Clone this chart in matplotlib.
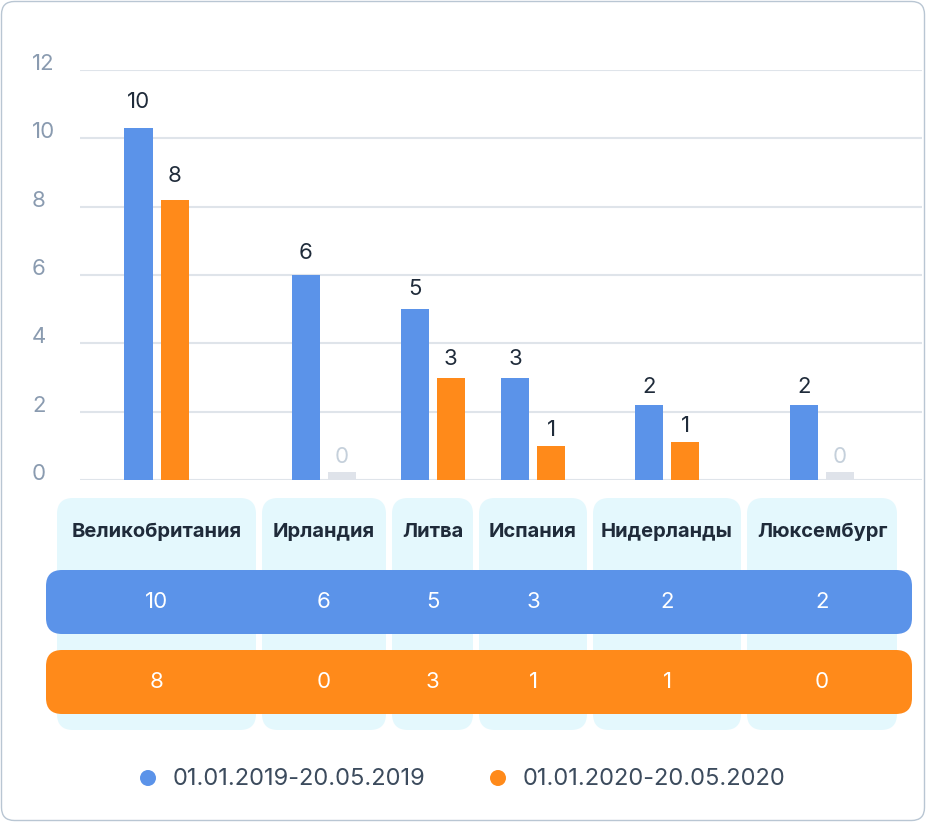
import matplotlib
matplotlib.use("Agg")
import matplotlib.pyplot as plt
from matplotlib.patches import FancyBboxPatch, Circle

plt.rcParams['font.family'] = ['Inter', 'DejaVu Sans']

# ---- data ----
categories = ["Великобритания", "Ирландия", "Литва", "Испания", "Нидерланды", "Люксембург"]
series_names = ["01.01.2019-20.05.2019", "01.01.2020-20.05.2020"]
values_2019 = [10.3, 6, 5, 3, 2.2, 2.2]
values_2020 = [8.2, 0, 3, 1, 1.1, 0]
y_ticks = [0, 2, 4, 6, 8, 10, 12]

# ---- style / layout ----
BLUE = "#5b93e9"
ORANGE = "#ff8a1a"
ZERO_BAR = "#dfe3ea"
ZERO_TXT = "#c5d0db"
DARK = "#1f2b3a"
TICK = "#8a9bb0"
GRID = "#dfe4ea"
COLBG = "#e4f8fd"
LEG = "#3c4b5d"

W, H = 926, 836
col_left0 = 57
col_gap = 6
col_widths = [199, 124, 81, 108, 148, 150]
bar_w = 28
bar_off = 18
zero_h = 0.24

centers = []
x = col_left0
for w in col_widths:
    centers.append(x + w / 2)
    x += w + col_gap

fig = plt.figure(figsize=(W / 100, H / 100), dpi=100)
fig.patch.set_facecolor("white")

# background / table axes in pixel coordinates
bg = fig.add_axes([0, 0, 1, 1])
bg.set_xlim(0, W)
bg.set_ylim(H, 0)
bg.axis("off")

card = FancyBboxPatch((1.5, 1.5), 923, 819, boxstyle="round,pad=0,rounding_size=13",
                      fc="white", ec="#b9c6d3", lw=1.0)
bg.add_patch(card)

# category columns
x = col_left0
for w, name, c in zip(col_widths, categories, centers):
    bg.add_patch(FancyBboxPatch((x, 498), w, 232, boxstyle="round,pad=0,rounding_size=16",
                                fc=COLBG, ec="none"))
    bg.text(c, 532, name, ha="center", va="center", fontsize=14.5, fontweight="bold", color=DARK)
    x += w + col_gap

# table bands
for y0, col, vals in [(570, BLUE, values_2019), (650, ORANGE, values_2020)]:
    bg.add_patch(FancyBboxPatch((46, y0), 866, 64, boxstyle="round,pad=0,rounding_size=16",
                                fc=col, ec="none"))
    for c, v in zip(centers, vals):
        bg.text(c, y0 + 32, f"{round(v)}", ha="center", va="center", fontsize=16,
                color="white")

# legend
for cx, col, name in [(148, BLUE, series_names[0]), (498, ORANGE, series_names[1])]:
    bg.add_patch(Circle((cx, 778), 8, fc=col, ec="none"))
    bg.text(cx + 25, 779, name, ha="left", va="center", fontsize=17, color=LEG)

# chart axes: x in pixels, y in values
ax = fig.add_axes([80 / W, 1 - 480 / H, 842 / W, 410 / H])
ax.set_xlim(80, 922)
ax.set_ylim(0, 12)
ax.patch.set_alpha(0)
for s in ax.spines.values():
    s.set_visible(False)
ax.set_xticks([])
ax.set_yticks(y_ticks)
ax.set_yticklabels([str(t) for t in y_ticks])
ax.tick_params(axis="y", length=0, pad=34.5, labelsize=16, labelcolor=TICK)
for lbl in ax.get_yticklabels():
    lbl.set_ha("left")
    lbl.set_va("baseline")
ax.yaxis.grid(True, color=GRID, lw=1.5)
ax.set_axisbelow(True)

for vals, col, sign in [(values_2019, BLUE, -1), (values_2020, ORANGE, 1)]:
    xs = [c + sign * bar_off for c in centers]
    heights = [v if v > 0 else zero_h for v in vals]
    colors = [col if v > 0 else ZERO_BAR for v in vals]
    ax.bar(xs, heights, width=bar_w, color=colors, zorder=3)
    for xx, v, hgt in zip(xs, vals, heights):
        off = (9 + 1.1 * v) * 0.72
        ax.annotate(f"{round(v)}", (xx, hgt), xytext=(0, off), textcoords="offset points",
                    ha="center", va="baseline", fontsize=16,
                    color=DARK if v > 0 else ZERO_TXT)

fig.savefig("out.png", dpi=100, facecolor="white")
